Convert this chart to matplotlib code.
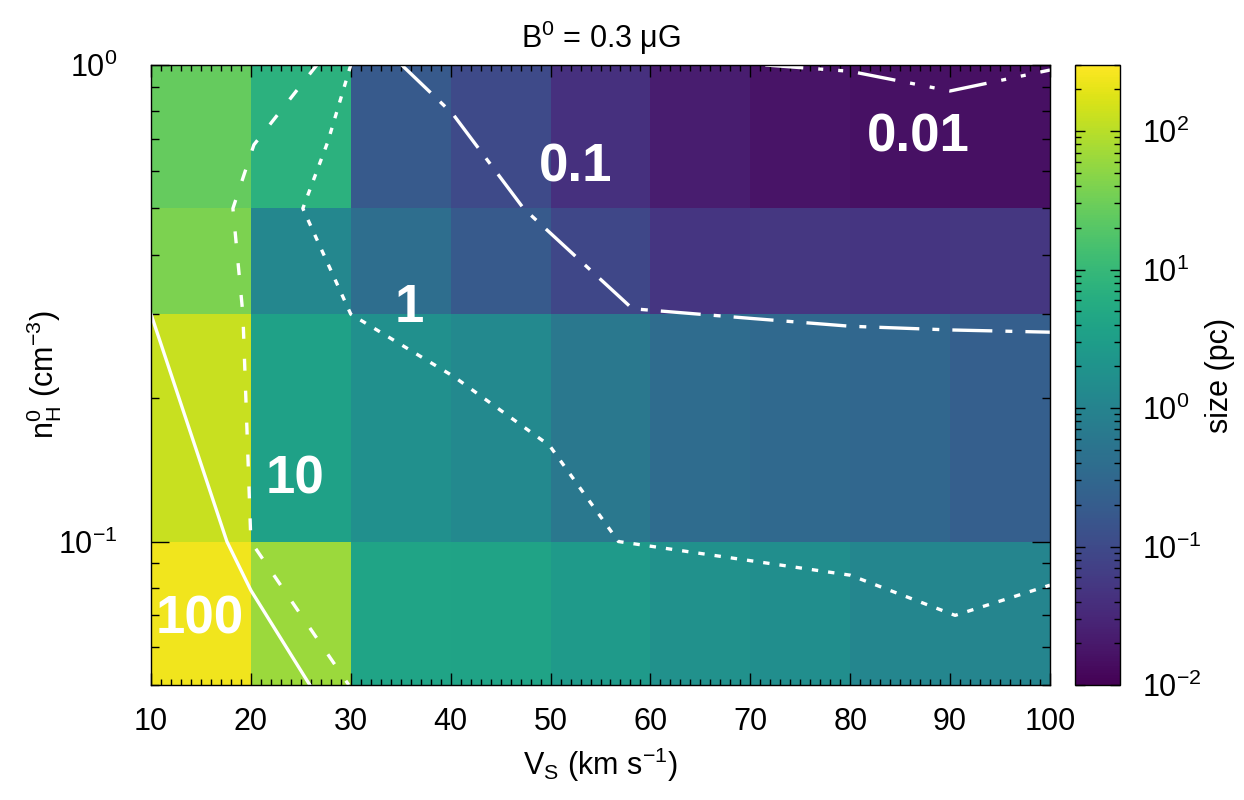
import numpy as np
import matplotlib.pyplot as plt
from matplotlib.colors import LogNorm
from matplotlib.ticker import MultipleLocator, LogLocator, NullFormatter

plt.rcParams['font.family'] = ['Liberation Sans', 'DejaVu Sans']
plt.rcParams['mathtext.fontset'] = 'custom'
plt.rcParams['mathtext.rm'] = 'Liberation Sans'
plt.rcParams['mathtext.it'] = 'Liberation Sans:italic'
plt.rcParams['mathtext.bf'] = 'Liberation Sans:bold'
plt.rcParams['mathtext.default'] = 'regular'

# grid of shock velocities (km/s) and pre-shock densities (cm^-3)
vs_edges = np.arange(10, 101, 10)
nh_edges = np.array([0.05, 0.1, 0.3, 0.5, 1.0])

# size (pc) per cell, rows from low to high density
size_pc = np.array([
    [244, 64, 4.2, 4.0, 2.6, 1.8, 1.55, 1.15, 1.1],
    [125, 3.6, 1.7, 1.3, 0.62, 0.37, 0.33, 0.30, 0.22],
    [39, 1.2, 0.40, 0.18, 0.088, 0.05, 0.052, 0.05, 0.052],
    [26, 7.3, 0.18, 0.10, 0.042, 0.023, 0.017, 0.016, 0.015],
])

# contour lines (V_S, n_H) for each size level
c100_v = [10, 17.6, 20, 25.9]
c100_n = [0.3, 0.1, 0.079, 0.05]
c10_v = [26.6, 20.3, 18.2, 19.2, 20, 29.8]
c10_n = [1.0, 0.68, 0.5, 0.3, 0.1, 0.05]
c1_v = [30, 27.7, 25.2, 30, 40.3, 49.9, 56.8, 80, 90.5, 100]
c1_n = [1.0, 0.69, 0.5, 0.3, 0.222, 0.159, 0.1, 0.085, 0.07, 0.081]
c01_v = [35.1, 40.2, 47.3, 58.2, 70, 80, 90, 100]
c01_n = [1.0, 0.79, 0.5, 0.308, 0.294, 0.283, 0.278, 0.275]
c001_v = [71.5, 80, 90, 100]
c001_n = [1.0, 0.97, 0.882, 0.976]

level_text = ['100', '10', '1', '0.1', '0.01']
level_v = [14.9, 24.4, 35.9, 52.5, 86.8]
level_n = [0.064, 0.126, 0.289, 0.569, 0.658]

W, H = 1244, 800
fig = plt.figure(figsize=(W / 100, H / 100), dpi=100)
ax = fig.add_axes([151 / W, 115 / H, 899 / W, 620 / H])
cax = fig.add_axes([1074.5 / W, 115 / H, 45 / W, 620 / H])

norm = LogNorm(vmin=0.01, vmax=300)
mesh = ax.pcolormesh(vs_edges, nh_edges, size_pc, cmap='viridis', norm=norm,
                     edgecolors='face', linewidth=0)

# dash patterns given in points, divided by line width
lw = 2.4
def dash(*pts):
    return (0, tuple(p / lw for p in pts))

ax.plot(c100_v, c100_n, color='white', lw=lw)
ax.plot(c10_v, c10_n, color='white', lw=lw, ls=dash(8.6, 14.4))
ax.plot(c1_v, c1_n, color='white', lw=lw, ls=dash(4.6, 7.2))
ax.plot(c01_v, c01_n, color='white', lw=lw, ls=dash(28.8, 9.4, 5, 9.4))
ax.plot(c001_v, c001_n, color='white', lw=lw,
        ls=dash(27.4, 10.8, 3.6, 10.8, 3.6, 10.8))

for t, v, n in zip(level_text, level_v, level_n):
    ax.text(v, n, t, color='white', fontsize=38, fontweight='bold',
            ha='center', va='baseline')

fs = 22
ax.set_yscale('log')
ax.set_xlim(10, 100)
ax.set_ylim(0.05, 1.0)
ax.xaxis.set_major_locator(MultipleLocator(10))
ax.xaxis.set_minor_locator(MultipleLocator(1))
ax.yaxis.set_major_locator(LogLocator(base=10, numticks=5))
ax.yaxis.set_minor_locator(LogLocator(base=10, subs=np.arange(2, 10), numticks=20))
ax.yaxis.set_minor_formatter(NullFormatter())
ax.tick_params(axis='both', which='both', direction='in', top=True, right=True,
               color='black', width=1, labelsize=fs)
ax.tick_params(axis='x', which='major', length=8.6, pad=16)
ax.tick_params(axis='x', which='minor', length=4.3)
ax.tick_params(axis='y', which='major', length=13, pad=24)
ax.tick_params(axis='y', which='minor', length=6)
for s in ax.spines.values():
    s.set_linewidth(1)

cb = fig.colorbar(mesh, cax=cax)
cb.outline.set_linewidth(1)
cax.tick_params(which='both', direction='in', left=True, right=True,
                color='black', width=1, labelsize=fs)
cax.tick_params(which='major', length=7, pad=16)
cax.tick_params(which='minor', length=4.3)

fig.text(600.5 / W, 1 - 48 / H, r'B$^0$ = 0.3 μG', fontsize=fs,
         ha='center', va='baseline')
fig.text(600.5 / W, 1 - 775 / H, r'V$_S$ (km s$^{-1}$)', fontsize=fs,
         ha='center', va='baseline')
fig.text(44 / W, 1 - 375 / H, r'$n_H^0$ (cm$^{-3}$)', fontsize=fs,
         ha='center', va='center', rotation=90)
fig.text(1220 / W, 1 - 375 / H, 'size (pc)', fontsize=fs,
         ha='center', va='center', rotation=90)

fig.savefig('out.png', dpi=100)
